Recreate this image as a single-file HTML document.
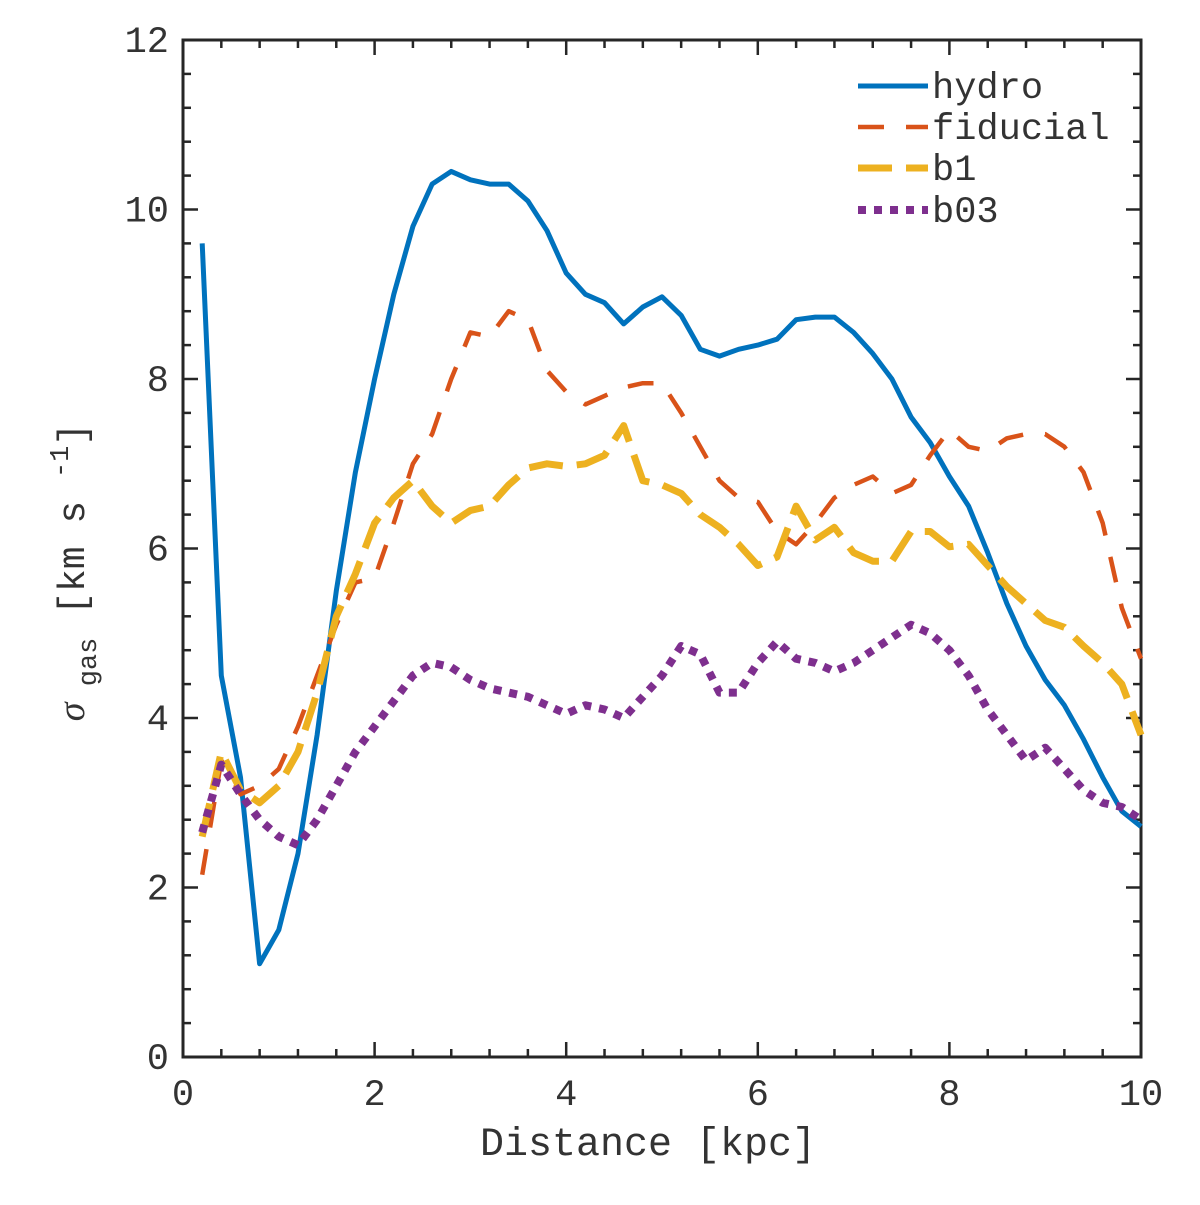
<!DOCTYPE html>
<html><head><meta charset="utf-8"><style>
body{margin:0;background:#fff}
svg{display:block}
text{font-family:"Liberation Mono",monospace;fill:#333}
</style></head><body>
<svg id="chart" width="1200" height="1205">
<g id="axes"></g>
<g id="series"></g>
<text x="648" y="1155" font-size="40" text-anchor="middle">Distance [kpc]</text>
<g transform="translate(84,572) rotate(-90)">
<text x="0" y="0" font-size="38" text-anchor="middle"><tspan font-family="Liberation Serif,serif" font-style="italic">σ</tspan><tspan dy="12" font-size="27"> gas</tspan><tspan dy="-12"> [km s </tspan><tspan dy="-16" font-size="27">-1</tspan><tspan dy="16">]</tspan></text>
</g>
<g id="legend"></g>
</svg>
<script>
const xs=[0.2,0.4,0.6,0.8,1.0,1.2,1.4,1.6,1.8,2.0,2.2,2.4,2.6,2.8,3.0,3.2,3.4,3.6,3.8,4.0,4.2,4.4,4.6,4.8,5.0,5.2,5.4,5.6,5.8,6.0,6.2,6.4,6.6,6.8,7.0,7.2,7.4,7.6,7.8,8.0,8.2,8.4,8.6,8.8,9.0,9.2,9.4,9.6,9.8,10];
const hydro=[9.6,4.5,3.3,1.1,1.5,2.4,3.8,5.5,6.9,8.0,9.0,9.8,10.3,10.45,10.35,10.3,10.3,10.1,9.75,9.25,9.0,8.9,8.65,8.85,8.97,8.75,8.35,8.27,8.35,8.4,8.47,8.7,8.73,8.73,8.55,8.3,8.0,7.55,7.25,6.85,6.5,5.95,5.35,4.85,4.45,4.15,3.75,3.3,2.9,2.72];
const fiducial=[2.15,3.5,3.1,3.2,3.4,3.9,4.5,5.1,5.6,5.65,6.3,7.0,7.35,8.0,8.55,8.5,8.8,8.7,8.1,7.85,7.7,7.8,7.9,7.95,7.95,7.6,7.2,6.8,6.6,6.55,6.2,6.05,6.3,6.6,6.75,6.85,6.65,6.75,7.1,7.4,7.2,7.15,7.3,7.35,7.35,7.2,6.9,6.3,5.3,4.7];
const b1=[2.6,3.6,3.15,3.0,3.2,3.6,4.3,5.2,5.7,6.3,6.6,6.8,6.5,6.3,6.45,6.5,6.75,6.95,7.0,6.97,7.0,7.1,7.45,6.8,6.75,6.65,6.4,6.25,6.05,5.8,5.9,6.5,6.1,6.25,5.95,5.85,5.85,6.2,6.2,6.02,6.05,5.8,5.55,5.35,5.15,5.07,4.85,4.65,4.4,3.8];
const b03=[2.65,3.45,3.1,2.8,2.6,2.5,2.8,3.2,3.6,3.9,4.2,4.5,4.65,4.6,4.45,4.35,4.3,4.25,4.15,4.05,4.15,4.1,4.0,4.25,4.5,4.85,4.75,4.3,4.3,4.65,4.9,4.7,4.65,4.55,4.65,4.8,4.95,5.1,5.0,4.8,4.5,4.1,3.8,3.5,3.65,3.4,3.15,3.0,2.95,2.8];
const xTicks=[0,2,4,6,8,10];
const yTicks=[0,2,4,6,8,10,12];
const L=183,R=1141,T=40,B=1057;
const X=v=>L+(v-0)/10*(R-L), Y=v=>B-v/12*(B-T);
const NS='http://www.w3.org/2000/svg';
function mk(tag,attrs,parent){const e=document.createElementNS(NS,tag);for(const k in attrs)e.setAttribute(k,attrs[k]);parent.appendChild(e);return e;}
const ax=document.getElementById('axes');
for(let i=0;i<=25;i++){const v=i*0.4;const major=Math.abs(v/2-Math.round(v/2))<1e-6;const len=major?15:8;const px=X(v);
 let t=mk('line',{x1:px,y1:B,x2:px,y2:B-len,stroke:'#262626','stroke-width':2.5},ax);
 
 
 t=mk('line',{x1:px,y1:T,x2:px,y2:T+len,stroke:'#262626','stroke-width':2.5},ax);
 
 }
for(let i=0;i<=30;i++){const v=i*0.4;const major=Math.abs(v/2-Math.round(v/2))<1e-6;const len=major?15:8;const py=Y(v);
 let t=mk('line',{x1:L,y1:py,x2:L+len,y2:py,stroke:'#262626','stroke-width':2.5},ax);
 
 
 t=mk('line',{x1:R,y1:py,x2:R-len,y2:py,stroke:'#262626','stroke-width':2.5},ax);
 
 }
const box=mk('rect',{x:L,y:T,width:R-L,height:B-T,fill:'none',stroke:'#262626','stroke-width':3},ax);


xTicks.forEach(v=>{const t=mk('text',{x:X(v),y:B+48,'font-size':37,'text-anchor':'middle'},ax);t.textContent=v;
 
 });
yTicks.forEach(v=>{const t=mk('text',{x:L-14,y:Y(v)+12,'font-size':37,'text-anchor':'end'},ax);t.textContent=v;
 
 });
const sg=document.getElementById('series');
const specs=[
 {name:'hydro',data:hydro,c:'#0072BD',w:5,d:'',cap:'butt'},
 {name:'fiducial',data:fiducial,c:'#D95319',w:4.5,d:'26 22',cap:'butt'},
 {name:'b1',data:b1,c:'#EDB120',w:7,d:'34 14',cap:'butt'},
 {name:'b03',data:b03,c:'#7E2F8E',w:8,d:'8 8',cap:'butt'}];
specs.forEach(s=>{const d=s.data.map((v,i)=>(i?'L':'M')+X(xs[i]).toFixed(1)+','+Y(v).toFixed(1)).join('');
 const p=mk('path',{d:d,fill:'none',stroke:s.c,'stroke-width':s.w,'stroke-dasharray':s.d,'stroke-linejoin':'round','stroke-linecap':s.cap},sg);
 
 });
const lg=document.getElementById('legend');
const ly=[86,127,168,210];
specs.forEach((s,i)=>{const l=mk('line',{x1:858,y1:ly[i],x2:928,y2:ly[i],stroke:s.c,'stroke-width':s.w,'stroke-dasharray':s.d},lg);
 
 
 const t=mk('text',{x:932,y:ly[i]+12,'font-size':37},lg);t.textContent=s.name;
 
 });
</script>
</body></html>
